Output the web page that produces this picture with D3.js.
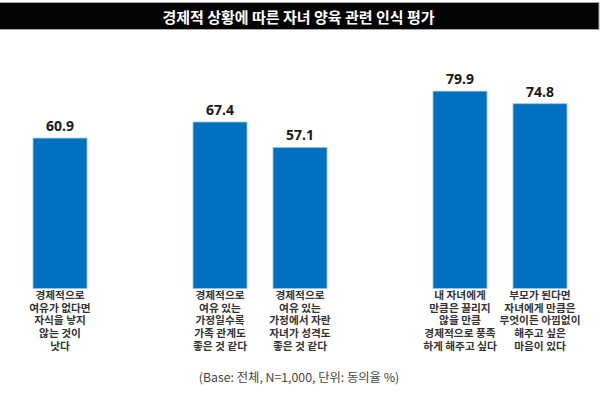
<!DOCTYPE html>
<html>
<head>
<meta charset="utf-8">
<script src="https://cdn.jsdelivr.net/npm/d3@7"></script>
<style>
  html, body { margin: 0; padding: 0; background: #fff; }
  svg { display: block; }
</style>
</head>
<body>
<svg id="chart" width="600" height="399"></svg>
<script>
const title = "경제적 상황에 따른 자녀 양육 관련 인식 평가";
const note = "(Base: 전체, N=1,000, 단위: 동의율 %)";
const categories = [
  ["경제적으로", "여유가 없다면", "자식을 낳지", "않는 것이", "낫다"],
  ["경제적으로", "여유 있는", "가정일수록", "가족 관계도", "좋은 것 같다"],
  ["경제적으로", "여유 있는", "가정에서 자란", "자녀가 성격도", "좋은 것 같다"],
  ["내 자녀에게", "만큼은 꿀리지", "않을 만큼", "경제적으로 풍족", "하게 해주고 싶다"],
  ["부모가 된다면", "자녀에게 만큼은", "무엇이든 아낌없이", "해주고 싶은", "마음이 있다"]
];
const values = [60.9, 67.4, 57.1, 79.9, 74.8];
const groups = [[0], [1, 2], [3, 4]];

const svg = d3.select("#chart");
const W = 600;

// title bar
svg.append("rect")
  .attr("x", -1).attr("y", 2.5).attr("width", W).attr("height", 27)
  .attr("fill", "#050505").attr("stroke", "#a6a6a6").attr("stroke-width", 1);
svg.append("text")
  .attr("x", 298.5).attr("y", 16)
  .attr("text-anchor", "middle").attr("dominant-baseline", "central")
  .attr("fill", "#fff")
  .attr("font-family", "'Noto Sans CJK KR', sans-serif")
  .attr("font-weight", "bold").attr("font-size", 15)
  .text(title);

// build band domain with gap slots between groups
const domain = [];
groups.forEach((g, gi) => {
  if (gi > 0) domain.push("gap" + gi);
  g.forEach(i => domain.push("c" + i));
});

const x = d3.scaleBand().domain(domain).range([20, 580])
  .paddingInner(0.325).paddingOuter(0.1625);
const y = d3.scaleLinear().domain([0, 100]).range([288.5, 41.5]);

const data = values.map((v, i) => ({ key: "c" + i, value: v, label: categories[i] }));

svg.append("g").selectAll("rect").data(data).join("rect")
  .attr("x", d => x(d.key))
  .attr("y", d => y(d.value))
  .attr("width", x.bandwidth())
  .attr("height", d => y(0) - y(d.value))
  .attr("fill", "#0070C0")
  .attr("stroke", "#9dc3e6").attr("stroke-width", 0.8);

svg.append("g").selectAll("text").data(data).join("text")
  .attr("x", d => x(d.key) + x.bandwidth() / 2)
  .attr("y", d => y(d.value) - 7)
  .attr("text-anchor", "middle")
  .attr("fill", "#1a1a1a")
  .attr("font-family", "'Noto Sans', 'Noto Sans CJK KR', sans-serif")
  .attr("font-weight", "bold").attr("font-size", 14)
  .text(d => d3.format(".1f")(d.value));

const lab = svg.append("g").selectAll("text").data(data).join("text")
  .attr("text-anchor", "middle")
  .attr("fill", "#333")
  .attr("font-family", "'Noto Sans CJK KR', sans-serif")
  .attr("font-weight", "bold").attr("font-size", 10.7);
lab.selectAll("tspan").data(d => d.label.map(l => ({ l, cx: x(d.key) + x.bandwidth() / 2 })))
  .join("tspan")
  .attr("x", t => t.cx)
  .attr("y", (t, i) => y(0) + 10.5 + i * 12.7)
  .text(t => t.l);

svg.append("text")
  .attr("x", 299).attr("y", 381.5)
  .attr("text-anchor", "middle")
  .attr("fill", "#444")
  .attr("font-family", "'Noto Sans CJK KR', sans-serif")
  .attr("font-size", 12.3)
  .text(note);
</script>
</body>
</html>
